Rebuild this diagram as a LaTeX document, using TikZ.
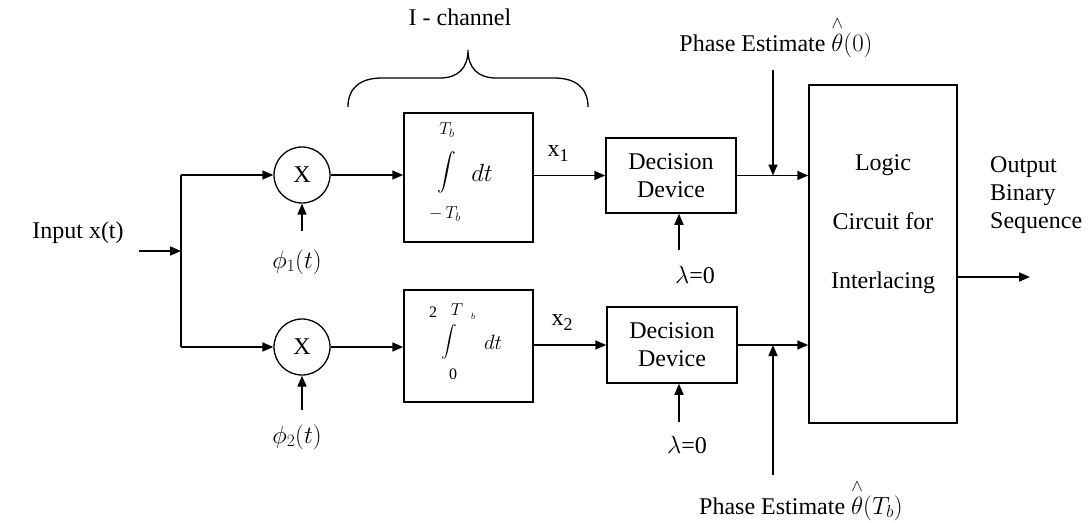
\documentclass[tikz,border=0pt]{standalone}
\usepackage{amsmath}
\usepackage{fontspec}
\setmainfont{Liberation Serif}
\usetikzlibrary{arrows.meta}
\begin{document}
\begin{tikzpicture}[x=1pt,y=-1pt,
  every node/.style={font=\fontsize{24}{28}\selectfont, inner sep=0pt},
  ln/.style={line width=1.6pt},
  arr/.style={ln, -{Triangle[length=11pt,width=9pt]}},
  circ/.style={draw, line width=1.3pt, circle, minimum size=56pt},
  blk/.style={draw, line width=1.5pt, rectangle},
  sm/.style={font=\fontsize{17}{19}\selectfont},
]
\useasboundingbox (0,0) rectangle (1089,522);

% brace and label
\node (ich) at (460,17) {I - channel};
\draw[line width=1.3pt] (348,107) .. controls (348,88) and (360,78) .. (382,78)
  -- (440,78) .. controls (458,78) and (468,68) .. (468,50)
  .. controls (468,68) and (478,78) .. (496,78)
  -- (554,78) .. controls (576,78) and (588,88) .. (588,107);

% input
\node (inp) at (78,233) {Input x(t)};
\coordinate (in) at (139,251);
\coordinate (jn) at (181,251);
\coordinate (top) at (181,175);
\coordinate (bot) at (181,347);
\draw[arr] (in) -- (jn);
\draw[ln] (top) -- (bot);

% multipliers
\node[circ] (m1) at (302,175) {X};
\node[circ] (m2) at (302,347) {X};
\draw[arr] (top) -- (m1.west);
\draw[arr] (bot) -- (m2.west);
\coordinate (f1s) at (302,231);
\coordinate (f2s) at (302,410);
\draw[arr] (f1s) -- (m1.south);
\draw[arr] (f2s) -- (m2.south);
\node (phi1) at (297,262) {$\phi_1(t)$};
\node (phi2) at (297,437) {$\phi_2(t)$};

% integrators
\node[blk, minimum width=129pt, minimum height=129pt] (int1) at (468.5,177.5) {};
\node[blk, minimum width=129pt, minimum height=112pt] (int2) at (468.5,346) {};
\draw[arr] (m1.east) -- (m1 -| int1.west);
\draw[arr] (m2.east) -- (m2 -| int2.west);

\node[font=\fontsize{14}{16}\selectfont] (i1) at (447,172) {\scalebox{1.3}{$\displaystyle\int$}};
\node[sm] (i1u) at (447,130) {$T_b$};
\node[sm] (i1l) at (445,214) {$-\,T_b$};
\node[font=\fontsize{27}{29}\selectfont] (i1d) at (482,173) {$dt$};

\node[font=\fontsize{12}{14}\selectfont] (i2) at (449,342) {\scalebox{1.3}{$\displaystyle\int$}};
\node[font=\fontsize{16}{18}\selectfont] (i2a) at (433,312) {2};
\node[font=\fontsize{16}{18}\selectfont] (i2b) at (457,310) {$T$};
\node[font=\fontsize{9}{10}\selectfont] (i2c) at (473,316) {$b$};
\node[font=\fontsize{22}{24}\selectfont] (i2d) at (493,342) {$dt$};
\node[font=\fontsize{16}{18}\selectfont] (i2l) at (453,374) {0};

% decision devices
\node[blk, minimum width=130pt, minimum height=75pt, align=center] (dec1) at (671,175.5) {Decision\\Device};
\node[blk, minimum width=130pt, minimum height=76pt, align=center] (dec2) at (672,345) {Decision\\Device};
\draw[arr] (int1.east |- dec1) -- (dec1.west);
\draw[arr] (int2.east |- dec2) -- (dec2.west);
\node (x1) at (558,153) {x\raisebox{-5pt}{\fontsize{18}{18}\selectfont 1}};
\node (x2) at (562,322) {x\raisebox{-5pt}{\fontsize{18}{18}\selectfont 2}};

\coordinate (l1s) at (679,250);
\coordinate (l2s) at (679,422);
\draw[arr] (l1s) -- (l1s |- dec1.south);
\draw[arr] (l2s) -- (l2s |- dec2.south);
\node (lam1) at (695,275) {$\lambda$=0};
\node (lam2) at (687,445) {$\lambda$=0};

% logic circuit
\node[blk, minimum width=148pt, minimum height=338pt] (logic) at (883,254) {};
\node[align=center, font=\fontsize{24}{59}\selectfont] (ltext) at (883,224) {Logic\\Circuit for\\Interlacing};
\draw[arr] (dec1.east) -- (dec1.east -| logic.west);
\draw[arr] (dec2.east) -- (dec2.east -| logic.west);

% phase estimates
\coordinate (p1s) at (773,70);
\coordinate (p2s) at (773,475);
\draw[arr] (p1s) -- (p1s |- dec1.east);
\draw[arr] (p2s) -- (p2s |- dec2.east);
\node (ph1) at (776,37) {Phase Estimate $\overset{\wedge}{\theta}(0)$};
\node (ph2) at (801,500) {Phase Estimate $\overset{\wedge}{\theta}(T_b)$};

% output
\coordinate (out) at (1030,277);
\draw[arr] (logic.east |- out) -- (out);
\node[align=left, anchor=west] (otext) at (990,195) {Output\\Binary\\Sequence};
\end{tikzpicture}
\end{document}
